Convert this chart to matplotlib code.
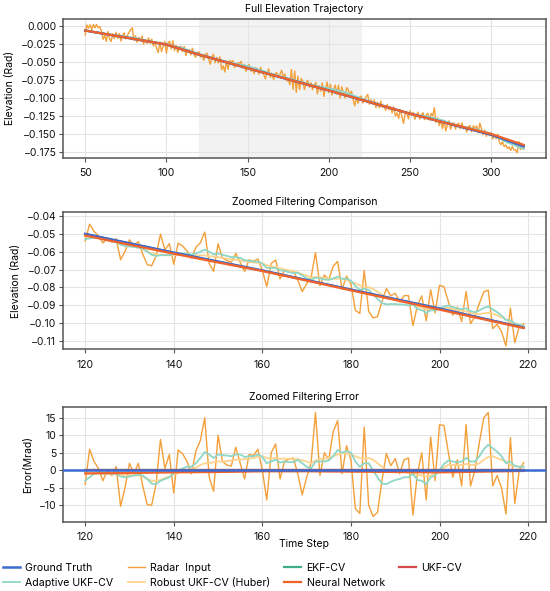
import numpy as np
import matplotlib
matplotlib.use("Agg")
import matplotlib.pyplot as plt
from matplotlib.ticker import MultipleLocator

plt.rcParams['font.family'] = ['Inter', 'DejaVu Sans']
plt.rcParams['font.size'] = 7.4

c_truth = '#3b6bd0'
c_radar = '#f4a03a'
c_ekf = '#3fae85'
c_ukf = '#d64c4c'
c_adapt = '#8ed6c6'
c_robust = '#fdd38d'
c_nn = '#f0622a'

# ---- full trajectory (panel 1) ----
full_steps = np.arange(50, 321)
truth_knot_steps = [50, 100, 120, 150, 200, 250, 300, 320]
truth_knot_elev = [-0.0068, -0.0262, -0.0400, -0.0588, -0.0895, -0.1215, -0.1505, -0.1665]

# radar deviation from truth, mrad, one value per step 50..320
radar_dev_full = [
    -6, 8, 4, 9, 3, 10, 6, 11, 7, 9,
    3, -8, -2, -10, 4, -6, -9, 2, -4, 5,
    -3, 4, -6, 2, 6, -2, 3, 8, 12, 15,
    -2, 5, -4, 3, -1, 6, -5, 2, -3, 5,
    -2, 4, -5, 1, -8, -13, 2, -11, -3, 4,
    -12, 3, 6, -4, 8, -5, 3, -6, 2, 4,
    -3, 5, -7, 1, 3, -4, 6, -2, -5, 2,
    4, -3, 1, -6, 3, 5, -2, -9, 2, 6,
    -5, 3, -4, 5, -12, -6, -14, 2, -9, 4,
    2, 5, -4, 1, 4, 3, 7, -2, 4, -5,
    3, 6, -3, 1, -5, 4, 2, -4, 6, 1,
    -3, -8, 2, 7, -4, 2, -6, 3, 5, -1,
    4, 10, 2, 6, -3, 1, -7, 15, -12, 14,
    -15, 8, -10, 6, 3, -8, 1, 6, -3, 4,
    -5, 2, 6, -9, 3, -4, 8, -10, 2, 11,
    -3, 9, -5, 4, 10, -2, 11, -6, 10, 3,
    -4, 11, 9, 2, 8, -3, -11, 1, -6, 3,
    5, -4, 2, 6, 10, -3, 4, -2, 5, -5,
    3, -4, 6, -2, 1, -5, 4, -3, 2, -6,
    3, -9, -4, -11, 2, -7, -16, -3, 1, -8,
    4, -2, 3, -6, 1, 5, -4, 2, 6, -3,
    4, 7, -2, 8, 5, 17, -3, 4, -6, 2,
    -9, 3, -11, -2, 4, -7, 1, 3, -5, 2,
    4, -3, 6, -2, 1, -5, 3, 5, -3, 6,
    2, 7, -2, 12, 5, -3, 4, -4, 2, -2,
    3, -5, 1, -3, 4, -6, -9, -4, -10, -7,
    -11, -8, -12, -6, -10, -9, -12, 4, -6, -3, -4,
]

filter_knot_steps = list(range(50, 321, 10))
adaptive_dev_full = [0, -0.5, 1, 1.5, 0.5, 0, 2, 1, 0.5, 1, 3, 2, 1, 1.5, 1,
                     3, 4, 1.5, 1, 0, 0, 2, 2.5, 0.5, 2, 1.5, -3, -3.5]
robust_dev_full = [0, 0, 0.5, 1, 0.5, 0, 1, 0.5, 0, 0.5, 2, 1.5, 1, 1, 0.5,
                   2, 3, 1, 0.5, 0, 0, 1, 1.5, 0.5, 1, 1, -2, -2.5]
nn_dev_full = [0, 0, 0, 0, 0, 0, 0, 0, 0, 0, 0, 0, 0, 0, 0,
               0, 0, 0, 0, 0, 0, 0, 0, 0.5, 0.7, 1.0, 1.5, 2.0]

# ---- zoomed window (panels 2 and 3) ----
zoom_steps = np.arange(120, 220)
zoom_truth_steps = [120, 140, 160, 180, 200, 219]
zoom_truth_elev = [-0.0500, -0.0605, -0.0705, -0.0812, -0.0918, -0.1025]

radar_err = [
    -4.0, 6.0, 2.5, 0.5, -3.0, 0.0, -1.5, 1.0, -10.3, -5.0,
    2.0, -1.0, 2.0, -4.5, -9.8, -10.0, -4.0, 8.8, 0.5, 4.5,
    -6.5, 5.8, 4.7, 2.5, -1.0, 5.5, 8.5, 15.0, -2.0, -6.0,
    10.0, 2.5, 1.5, 1.2, 6.6, 2.0, -2.5, 4.5, 4.2, 6.0,
    0.0, -8.5, 5.0, 7.5, -2.5, 2.5, 3.2, 3.5, -1.0, -7.0,
    -2.0, 2.0, 16.5, -1.5, 5.0, 3.0, 11.0, 14.2, -1.0, 7.0,
    3.0, -11.0, -12.3, 12.3, -10.0, -13.2, -12.0, -3.0, 4.8, 1.3,
    3.3, -1.0, 3.0, 3.5, -12.8, -1.0, 5.0, -8.5, 9.5, -3.0,
    13.0, 12.8, 5.0, -2.0, 3.0, -4.5, 13.0, -4.5, 0.0, 8.0,
    15.0, 16.5, -4.5, -1.5, -5.0, -12.5, 9.3, -9.5, 0.0, 2.2,
]
adaptive_err = [
    -3.0, -2.0, -1.0, -0.8, -1.0, -0.8, -1.0, -1.0, -1.8, -2.0,
    -1.8, -1.5, -1.3, -1.5, -2.5, -3.8, -4.0, -3.0, -2.5, -2.0,
    -0.8, 0.0, 0.5, 1.0, 1.0, 2.0, 3.5, 5.2, 4.5, 3.5,
    4.5, 4.3, 4.2, 4.0, 4.5, 4.5, 3.8, 4.0, 4.0, 4.5,
    3.8, 2.0, 2.5, 3.0, 2.2, 2.5, 2.3, 2.3, 3.0, 2.0,
    1.0, 0.5, 2.5, 2.5, 2.5, 2.8, 4.0, 5.8, 5.0, 5.5,
    5.0, 2.5, 1.0, 2.0, 2.0, 0.0, -2.0, -3.8, -4.0, -3.3,
    -2.8, -2.5, -2.0, -2.0, -1.0, -2.8, -3.0, -4.0, -2.0, -1.5,
    0.0, 1.8, 2.8, 2.5, 2.3, 2.5, 3.5, 2.5, 2.5, 4.0,
    6.0, 7.3, 6.3, 5.3, 4.0, 2.0, 2.5, 1.2, 1.0, 1.0,
]
robust_err = [
    -1.0, -1.0, -0.8, -0.8, -0.8, -1.0, -1.0, -1.0, -1.2, -1.5,
    -1.5, -1.5, -1.5, -1.8, -2.5, -3.0, -3.0, -2.8, -2.2, -1.8,
    -1.2, -0.8, -0.3, 0.0, 0.3, 0.8, 1.5, 2.0, 2.0, 2.3,
    2.5, 2.5, 2.6, 2.8, 3.0, 3.0, 3.2, 3.3, 3.5, 3.8,
    4.0, 3.5, 3.3, 3.5, 3.3, 3.3, 3.3, 3.2, 3.2, 2.8,
    2.5, 2.0, 2.8, 3.2, 3.3, 3.5, 4.0, 4.5, 5.0, 4.8,
    4.5, 4.0, 3.5, 3.3, 3.5, 3.0, 2.0, 1.0, 0.0, -0.3,
    -0.5, -0.5, -0.5, -0.8, -1.0, -1.3, -1.5, -1.8, -1.5, -1.0,
    0.0, 0.8, 1.5, 1.5, 1.5, 1.5, 1.8, 1.5, 1.5, 2.0,
    3.0, 3.8, 4.0, 3.5, 3.0, 2.5, 1.5, 1.2, 1.0, 1.0,
]
nn_err_steps = [120, 130, 140, 150, 160, 170, 180, 190, 200, 210, 219]
nn_err = [-0.9, -0.8, -0.6, -0.5, -0.3, -0.3, -0.4, -0.5, -0.6, -0.4, -0.2]
# EKF-CV and UKF-CV sit on the ground truth (hidden under it)
hidden_err_steps = [120, 219]
hidden_err = [0.0, 0.0]

# ---- derived series ----
truth_full = np.interp(full_steps, truth_knot_steps, truth_knot_elev)
radar_full = truth_full + np.array(radar_dev_full) / 1000
truth_at_knots = np.interp(filter_knot_steps, truth_knot_steps, truth_knot_elev)
adaptive_full = truth_at_knots + np.array(adaptive_dev_full) / 1000
robust_full = truth_at_knots + np.array(robust_dev_full) / 1000
nn_full = truth_at_knots + np.array(nn_dev_full) / 1000

truth_zoom = np.interp(zoom_steps, zoom_truth_steps, zoom_truth_elev)
radar_zoom = truth_zoom + np.array(radar_err) / 1000
adaptive_zoom = truth_zoom + np.array(adaptive_err) / 1000
robust_zoom = truth_zoom + np.array(robust_err) / 1000
nn_zoom = np.interp(nn_err_steps, zoom_truth_steps, zoom_truth_elev) + np.array(nn_err) / 1000

fig = plt.figure(figsize=(5.5, 5.91), dpi=100)
ax1 = fig.add_axes([0.115, 0.7327, 0.877, 0.2357])
ax2 = fig.add_axes([0.115, 0.4090, 0.877, 0.2318])
ax3 = fig.add_axes([0.115, 0.1173, 0.877, 0.1936])


def style(ax):
    ax.grid(True, color='#e4e4e4', linewidth=0.8)
    ax.set_axisbelow(True)
    for s in ax.spines.values():
        s.set_color('#555555')
        s.set_linewidth(1.1)
    ax.tick_params(length=3, width=0.8, color='#555555',
                   labelsize=7.5, labelcolor='#111111')
    ax.tick_params(axis='y', pad=2)
    ax.tick_params(axis='x', pad=4.5)


# panel 1
ax1.axvspan(120, 220, color='#f2f2f2', zorder=0)
ax1.plot(full_steps, radar_full, color=c_radar, lw=1.0, zorder=2)
ax1.plot(filter_knot_steps, robust_full, color=c_robust, lw=1.3, zorder=3)
ax1.plot(filter_knot_steps, adaptive_full, color=c_adapt, lw=1.3, zorder=3)
ax1.plot(truth_knot_steps, truth_knot_elev, color=c_ekf, lw=1.2, zorder=3)
ax1.plot(truth_knot_steps, truth_knot_elev, color=c_ukf, lw=1.2, zorder=3)
ax1.plot(truth_knot_steps, truth_knot_elev, color=c_truth, lw=1.8, zorder=4)
ax1.plot(filter_knot_steps, nn_full, color=c_nn, lw=1.6, zorder=5)
ax1.set_ylim(-0.1826, 0.0095)
ax1.yaxis.set_major_locator(MultipleLocator(0.025))
ax1.set_title('Full Elevation Trajectory', fontsize=7.5, pad=5)
ax1.set_ylabel('Elevation (Rad)', fontsize=7.5)
style(ax1)

# panel 2
ax2.plot(zoom_steps, radar_zoom, color=c_radar, lw=1.0, zorder=2)
ax2.plot(zoom_steps, robust_zoom, color=c_robust, lw=1.3, zorder=3)
ax2.plot(zoom_steps, adaptive_zoom, color=c_adapt, lw=1.3, zorder=3)
ax2.plot(zoom_truth_steps, zoom_truth_elev, color=c_ekf, lw=1.2, zorder=3)
ax2.plot(zoom_truth_steps, zoom_truth_elev, color=c_ukf, lw=1.2, zorder=3)
ax2.plot(zoom_truth_steps, zoom_truth_elev, color=c_truth, lw=1.8, zorder=4)
ax2.plot(nn_err_steps, nn_zoom, color=c_nn, lw=1.6, zorder=5)
ax2.set_ylim(-0.1146, -0.0379)
ax2.yaxis.set_major_locator(MultipleLocator(0.01))
ax2.set_title('Zoomed Filtering Comparison', fontsize=7.5, pad=5)
ax2.set_ylabel('Elevation (Rad)', fontsize=7.5)
style(ax2)

# panel 3
l_radar, = ax3.plot(zoom_steps, radar_err, color=c_radar, lw=1.0, zorder=2, label='Radar  Input')
l_rob, = ax3.plot(zoom_steps, robust_err, color=c_robust, lw=1.3, zorder=3, label='Robust UKF-CV (Huber)')
l_ada, = ax3.plot(zoom_steps, adaptive_err, color=c_adapt, lw=1.3, zorder=3, label='Adaptive UKF-CV')
l_ekf, = ax3.plot(hidden_err_steps, hidden_err, color=c_ekf, lw=1.6, zorder=3, label='EKF-CV')
l_ukf, = ax3.plot(hidden_err_steps, hidden_err, color=c_ukf, lw=1.6, zorder=3, label='UKF-CV')
l_nn, = ax3.plot(nn_err_steps, nn_err, color=c_nn, lw=1.6, zorder=4, label='Neural Network')
l_gt = ax3.axhline(0, color=c_truth, lw=1.8, zorder=5, label='Ground Truth')
ax3.yaxis.set_major_locator(MultipleLocator(5))
ax3.set_title('Zoomed Filtering Error', fontsize=7.5, pad=5)
ax3.set_ylabel('Error(Mrad)', fontsize=7.5)
ax3.set_xlabel('Time Step', fontsize=7.5, labelpad=-2)
style(ax3)

handles = [l_gt, l_ada, l_radar, l_rob, l_ekf, l_nn, l_ukf]
fig.legend(handles=handles, labels=[h.get_label() for h in handles],
           loc='upper left', bbox_to_anchor=(0.006, 0.0474), ncol=4,
           frameon=False, fontsize=7.6, borderpad=0, borderaxespad=0,
           handlelength=1.6, handletextpad=0.5, columnspacing=1.35,
           labelspacing=0.48)

fig.savefig('out.png', dpi=100)
